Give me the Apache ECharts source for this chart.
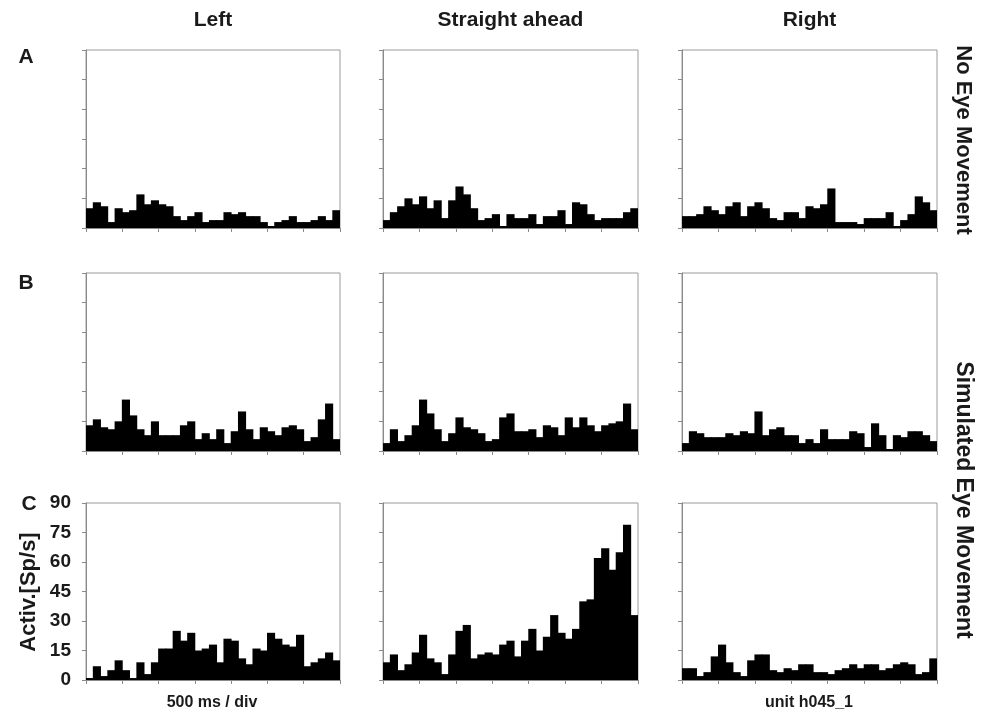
<!DOCTYPE html>
<html>
<head>
<meta charset="utf-8">
<script src="https://cdn.jsdelivr.net/npm/echarts@6/dist/echarts.min.js"></script>
<style>
  html, body { margin: 0; padding: 0; background: #fff; }
  #main { width: 987px; height: 719px; }
</style>
</head>
<body>
<div id="main"></div>
<script>
// 35 bins of 100 ms (500 ms / div)
var bins = ['0', '100', '200', '300', '400', '500', '600', '700', '800', '900',
  '1000', '1100', '1200', '1300', '1400', '1500', '1600', '1700', '1800', '1900',
  '2000', '2100', '2200', '2300', '2400', '2500', '2600', '2700', '2800', '2900',
  '3000', '3100', '3200', '3300', '3400'];

var colTitles = ['Left', 'Straight ahead', 'Right'];
var rowLetters = ['A', 'B', 'C'];

// A: no eye movement
var leftA = [10, 13, 11, 3, 10, 8, 9, 17, 12, 14, 12, 11, 6, 4, 6, 8, 3, 4, 4, 8,
  7, 8, 6, 6, 3, 1, 3, 4, 6, 3, 3, 4, 6, 4, 9];
var aheadA = [4, 8, 11, 15, 12, 16, 10, 14, 5, 14, 21, 17, 10, 4, 5, 7, 1, 7, 5, 5,
  7, 2, 6, 6, 9, 2, 13, 12, 7, 4, 5, 5, 5, 8, 10];
var rightA = [6, 6, 7, 11, 9, 7, 11, 13, 6, 11, 13, 10, 5, 4, 8, 8, 5, 11, 10, 12,
  20, 3, 3, 3, 2, 5, 5, 5, 8, 1, 4, 7, 16, 13, 9];

// B: simulated eye movement
var leftB = [13, 16, 12, 11, 15, 26, 18, 11, 8, 15, 8, 8, 8, 13, 15, 6, 9, 6, 11, 4,
  10, 20, 11, 6, 12, 10, 8, 12, 13, 11, 5, 7, 16, 24, 6];
var aheadB = [4, 11, 5, 8, 13, 26, 19, 11, 5, 9, 17, 12, 11, 9, 5, 6, 17, 19, 10, 10,
  11, 7, 13, 12, 8, 17, 12, 17, 13, 10, 13, 14, 15, 24, 11];
var rightB = [4, 10, 9, 7, 7, 7, 9, 8, 10, 9, 20, 8, 11, 12, 8, 8, 4, 6, 4, 11,
  6, 6, 6, 10, 9, 2, 14, 8, 1, 8, 7, 10, 10, 8, 5];

// C: simulated eye movement
var leftC = [1, 7, 2, 5, 10, 5, 1, 9, 3, 9, 16, 16, 25, 20, 24, 15, 16, 18, 9, 21,
  20, 11, 8, 16, 15, 24, 21, 18, 17, 23, 7, 9, 11, 14, 10];
var aheadC = [9, 13, 5, 8, 14, 23, 11, 9, 3, 13, 25, 28, 11, 13, 14, 13, 18, 20, 12, 20,
  26, 15, 22, 33, 24, 21, 26, 40, 41, 62, 67, 56, 65, 79, 33];
var rightC = [6, 6, 2, 4, 12, 18, 9, 4, 2, 10, 13, 13, 5, 4, 6, 5, 8, 8, 4, 4,
  3, 5, 6, 8, 6, 8, 8, 5, 6, 8, 9, 8, 3, 4, 11];

var panels = [
  [leftA, aheadA, rightA],
  [leftB, aheadB, rightB],
  [leftC, aheadC, rightC]
];

var cols = [
  { left: 86, width: 254 },
  { left: 383, width: 255 },
  { left: 682, width: 255 }
];
var rows = [
  { top: 50, height: 178 },
  { top: 273, height: 178 },
  { top: 503, height: 177 }
];

var grid = [], xAxis = [], yAxis = [], series = [];
var n = 0;
for (var r = 0; r < 3; r++) {
  for (var c = 0; c < 3; c++) {
    grid.push({
      left: cols[c].left,
      width: cols[c].width,
      top: rows[r].top,
      height: rows[r].height,
      show: true,
      borderColor: '#9a9a9a',
      borderWidth: 1,
      backgroundColor: 'transparent'
    });
    xAxis.push({
      type: 'category',
      gridIndex: n,
      data: bins,
      boundaryGap: true,
      axisLine: { lineStyle: { color: '#8a8a8a', width: 1 } },
      axisTick: { show: true, interval: 4, length: 4, lineStyle: { color: '#8a8a8a' } },
      axisLabel: { show: false },
      splitLine: { show: false }
    });
    var showLabels = (r === 2 && c === 0);
    yAxis.push({
      type: 'value',
      gridIndex: n,
      min: 0,
      max: 90,
      interval: 15,
      axisLine: { show: true, lineStyle: { color: '#8a8a8a', width: 1 } },
      axisTick: { show: true, length: 4, lineStyle: { color: '#8a8a8a' } },
      axisLabel: {
        show: showLabels,
        margin: 15,
        color: '#1a1a1a',
        fontFamily: 'Liberation Sans',
        fontWeight: 'bold',
        fontSize: 19
      },
      splitLine: { show: false }
    });
    series.push({
      type: 'bar',
      xAxisIndex: n,
      yAxisIndex: n,
      data: panels[r][c],
      // slightly wider than the bin so neighbouring bars overlap, no seams
      barWidth: '112%',
      itemStyle: { color: '#000' },
      silent: true,
      animation: false
    });
    n++;
  }
}

var txt = function (x, y, text, size, rot) {
  return {
    type: 'text',
    x: x,
    y: y,
    rotation: rot || 0,
    style: {
      text: text,
      fill: '#1a1a1a',
      font: 'bold ' + size + 'px "Liberation Sans", Arial, sans-serif',
      align: 'center',
      verticalAlign: 'middle'
    }
  };
};

var graphic = [];
// column titles
for (var i = 0; i < 3; i++) {
  graphic.push(txt(cols[i].left + cols[i].width / 2, 20, colTitles[i], 21));
}
// row letters
graphic.push(txt(26, 57, rowLetters[0], 21));
graphic.push(txt(26, 283, rowLetters[1], 21));
graphic.push(txt(29, 504, rowLetters[2], 21));
// y axis name
graphic.push(txt(29, 592, 'Activ.[Sp/s]', 22, Math.PI / 2));
// right side labels
graphic.push(txt(963, 140, 'No Eye Movement', 22, -Math.PI / 2));
graphic.push(txt(963, 500, 'Simulated Eye Movement', 23, -Math.PI / 2));
// bottom labels
graphic.push(txt(212, 703, '500 ms / div', 16));
graphic.push(txt(809, 703, 'unit h045_1', 16));

var chart = echarts.init(document.getElementById('main'));
chart.setOption({
  animation: false,
  backgroundColor: '#fff',
  grid: grid,
  xAxis: xAxis,
  yAxis: yAxis,
  series: series,
  graphic: graphic
});
</script>
</body>
</html>
